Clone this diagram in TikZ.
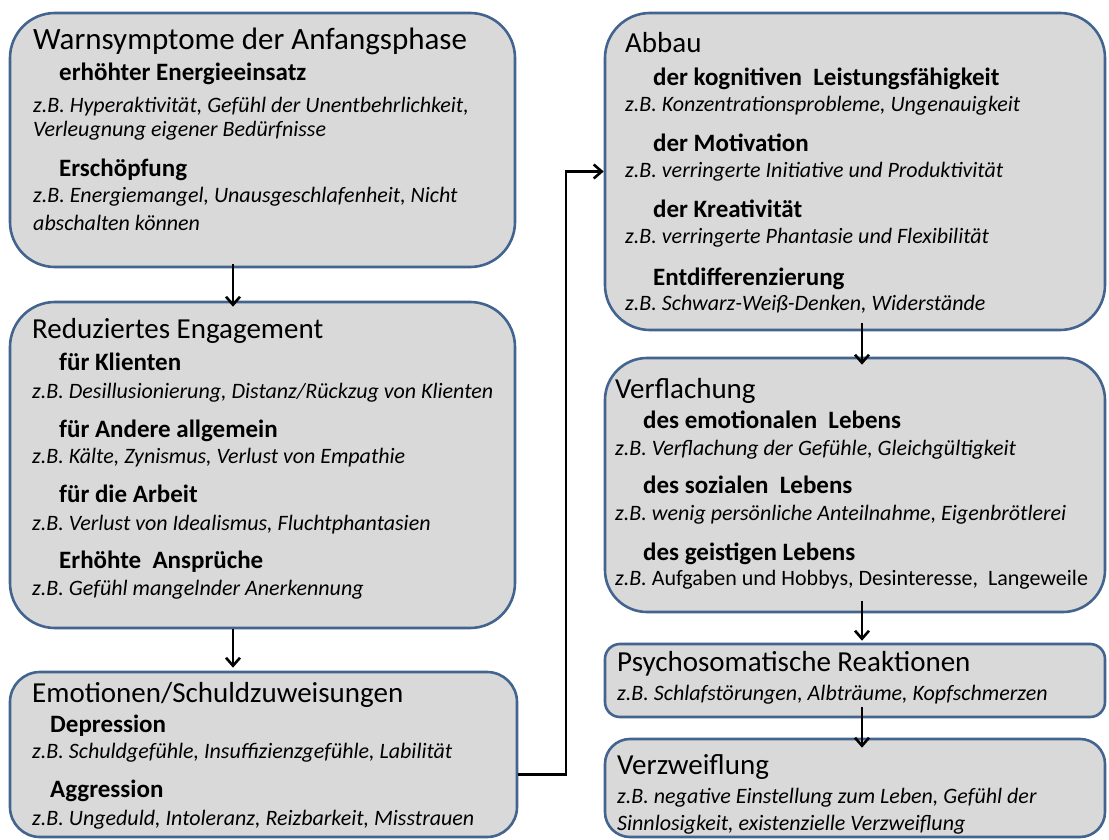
\documentclass[tikz,border=0pt]{standalone}
\usepackage{fontspec}
\setmainfont{Carlito}
\usetikzlibrary{arrows.meta,calc}
\definecolor{boxfill}{HTML}{D9D9D9}
\definecolor{boxline}{HTML}{43648E}
\tikzset{
  box/.style={draw=boxline, fill=boxfill, line width=2.6pt, rectangle, inner sep=0pt},
  ttl/.style={anchor=base west, inner sep=0pt, font=\fontsize{29}{33}\selectfont},
  sub/.style={anchor=base west, inner sep=0pt, font=\fontsize{25}{29}\selectfont\bfseries},
  ex/.style={anchor=base west, inner sep=0pt, font=\fontsize{22}{25}\selectfont\itshape},
  arr/.style={draw=black, line width=2.6pt, -{Straight Barb[length=8pt,width=14pt,line width=2.6pt]}},
}
\begin{document}
\begin{tikzpicture}[x=1pt,y=-1pt]
\useasboundingbox[fill=white] (0,0) rectangle (1109,840);
\clip (0,0) rectangle (1109,840);
% boxes
\node[box, rounded corners=45pt, minimum width=505pt, minimum height=254pt] (b1) at (262.5,140) {};
\node[box, rounded corners=45pt, minimum width=505pt, minimum height=326pt] (b2) at (262.5,465) {};
\node[box, rounded corners=30pt, minimum width=507pt, minimum height=165pt] (b3) at (263.5,754.5) {};
\node[box, rounded corners=45pt, minimum width=500pt, minimum height=317pt] (bA) at (855,171.5) {};
\node[box, rounded corners=42pt, minimum width=500pt, minimum height=254pt] (bB) at (855,485) {};
\node[box, rounded corners=15pt, minimum width=500pt, minimum height=73pt] (bC) at (855,680.5) {};
\node[box, rounded corners=25pt, minimum width=500pt, minimum height=98pt] (bD) at (855,788) {};
% box 1
\node[ttl, font=\fontsize{31}{35}\selectfont] (t1) at (33,50) {Warnsymptome der Anfangsphase};
\node[sub] (s1a) at (59,81) {erhöhter Energieeinsatz};
\node[ex] (e1a) at (33,113) {z.B. Hyperaktivität, Gefühl der Unentbehrlichkeit,};
\node[ex] (e1b) at (33,137) {Verleugnung eigener Bedürfnisse};
\node[sub] (s1b) at (59,177) {Erschöpfung};
\node[ex] (e1c) at (33,203) {z.B. Energiemangel, Unausgeschlafenheit, Nicht};
\node[ex] (e1d) at (33,230) {abschalten können};
% box 2
\node[ttl] (t2) at (32,338) {Reduziertes Engagement};
\node[sub] (s2a) at (59,370) {für Klienten};
\node[ex] (e2a) at (32,398) {z.B. Desillusionierung, Distanz/Rückzug von Klienten};
\node[sub] (s2b) at (59,437) {für Andere allgemein};
\node[ex] (e2b) at (32,463) {z.B. Kälte, Zynismus, Verlust von Empathie};
\node[sub] (s2c) at (59,502) {für die Arbeit};
\node[ex] (e2c) at (32,530) {z.B. Verlust von Idealismus, Fluchtphantasien};
\node[sub] (s2d) at (59,568) {Erhöhte\ \ Ansprüche};
\node[ex] (e2d) at (32,595) {z.B. Gefühl mangelnder Anerkennung};
% box 3
\node[ttl] (t3) at (32,702) {Emotionen/Schuldzuweisungen};
\node[sub] (s3a) at (50,732) {Depression};
\node[ex] (e3a) at (32,758) {z.B. Schuldgefühle, Insuffizienzgefühle, Labilität};
\node[sub] (s3b) at (50,797) {Aggression};
\node[ex] (e3b) at (32,825) {z.B. Ungeduld, Intoleranz, Reizbarkeit, Misstrauen};
% box A
\node[ttl] (tA) at (625,53) {Abbau};
\node[sub] (sAa) at (653,86) {der kognitiven\ \ Leistungsfähigkeit};
\node[ex] (eAa) at (625,112) {z.B. Konzentrationsprobleme, Ungenauigkeit};
\node[sub] (sAb) at (653,152) {der Motivation};
\node[ex] (eAb) at (625,178) {z.B. verringerte Initiative und Produktivität};
\node[sub] (sAc) at (653,218) {der Kreativität};
\node[ex] (eAc) at (625,243) {z.B. verringerte Phantasie und Flexibilität};
\node[sub] (sAd) at (653,285) {Entdifferenzierung};
\node[ex] (eAd) at (625,310) {z.B. Schwarz-Weiß-Denken, Widerstände};
% box B
\node[ttl] (tB) at (615,398) {Verflachung};
\node[sub] (sBa) at (643,428) {des emotionalen\ \ Lebens};
\node[ex] (eBa) at (615,455) {z.B. Verflachung der Gefühle, Gleichgültigkeit};
\node[sub] (sBb) at (643,493) {des sozialen\ \ Lebens};
\node[ex] (eBb) at (615,520) {z.B. wenig persönliche Anteilnahme, Eigenbrötlerei};
\node[sub] (sBc) at (643,560) {des geistigen Lebens};
\node[ex] (eBc) at (615,585) {z.B. \upshape Aufgaben und Hobbys, Desinteresse,\ \ Langeweile};
% box C
\node[ttl] (tC) at (617,671) {Psychosomatische Reaktionen};
\node[ex] (eCa) at (617,700) {z.B. Schlafstörungen, Albträume, Kopfschmerzen};
% box D
\node[ttl] (tD) at (617,774) {Verzweiflung};
\node[ex] (eDa) at (617,803) {z.B. negative Einstellung zum Leben, Gefühl der};
\node[ex] (eDb) at (617,830) {Sinnlosigkeit, existenzielle Verzweiflung};
% connectors
\draw[arr] ([xshift=-29.5pt,yshift=4pt]b1.south) -- ([xshift=-29.5pt,yshift=-6pt]b2.north);
\draw[arr] ([xshift=-29.5pt]b2.south) -- ([xshift=-30.5pt,yshift=3pt]b3.north);
\draw[arr] ([xshift=7pt,yshift=8pt]bA.south) -- ([xshift=7pt,yshift=-8pt]bB.north);
\draw[arr] ([xshift=7pt,yshift=12pt]bB.south) -- ([xshift=7pt,yshift=2pt]bC.north);
\draw[arr] ([xshift=7pt,yshift=11pt]bC.south) -- ([xshift=7pt,yshift=-10pt]bD.north);
\coordinate (j) at (566,0);
\draw[arr] ([yshift=-20pt]b3.east) -| (j |- bA.west) -- (bA.west);
\end{tikzpicture}
\end{document}
